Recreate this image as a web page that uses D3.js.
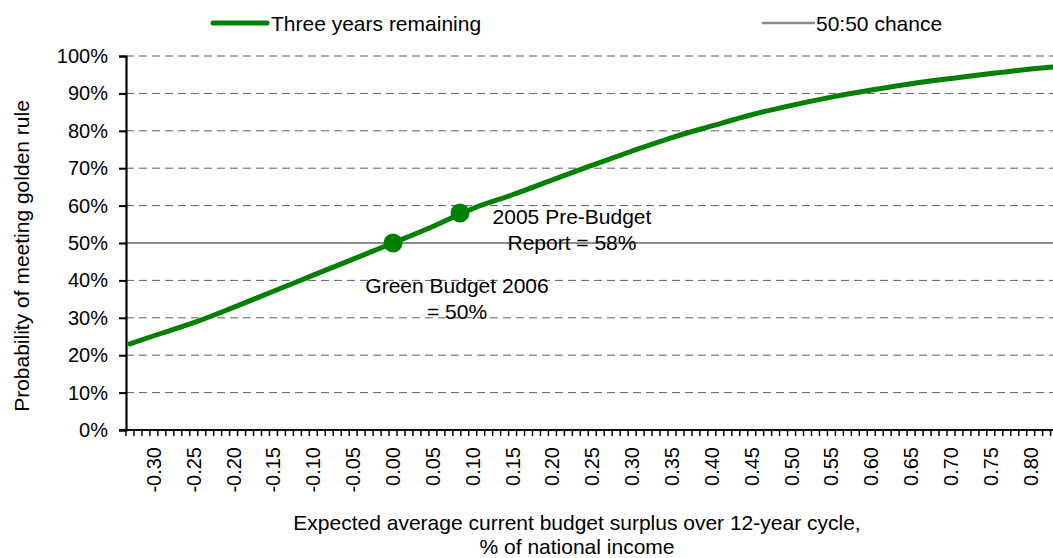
<!DOCTYPE html>
<html>
<head>
<meta charset="utf-8">
<script src="https://cdn.jsdelivr.net/npm/d3@7"></script>
<style>
  html, body { margin: 0; padding: 0; background: #fff; }
  svg { display: block; }
  text { font-family: "Liberation Sans", Arial, sans-serif; fill: #000; }
</style>
</head>
<body>
<svg id="chart" width="1053" height="558"></svg>
<script>
// Budget surplus (% of national income) and probability of meeting the golden rule
const surplus = [-0.33, -0.30, -0.25, -0.20, -0.15, -0.10, -0.05, 0.00, 0.05, 0.10, 0.15, 0.20,
                 0.25, 0.30, 0.35, 0.40, 0.45, 0.50, 0.55, 0.60, 0.65, 0.70, 0.75, 0.80, 0.83];
const threeYearsRemaining = [0.230, 0.252, 0.287, 0.328, 0.371, 0.414, 0.457, 0.500, 0.544, 0.592,
                             0.629, 0.669, 0.708, 0.746, 0.782, 0.813, 0.843, 0.868, 0.890, 0.909,
                             0.926, 0.940, 0.953, 0.965, 0.971];
const fiftyFifty = 0.5;

// Marked forecasts
const markers = [
  { name: "Green Budget 2006", x: 0.00, y: 0.50, lines: ["Green Budget 2006", "= 50%"] },
  { name: "2005 Pre-Budget Report", x: 0.084, y: 0.58, lines: ["2005 Pre-Budget", "Report = 58%"] }
];

const xTickLabels = ["-0.30", "-0.25", "-0.20", "-0.15", "-0.10", "-0.05", "0.00", "0.05", "0.10",
                     "0.15", "0.20", "0.25", "0.30", "0.35", "0.40", "0.45", "0.50", "0.55",
                     "0.60", "0.65", "0.70", "0.75", "0.80"];
const yTickValues = [0, 0.1, 0.2, 0.3, 0.4, 0.5, 0.6, 0.7, 0.8, 0.9, 1.0];

const legendLabels = ["Three years remaining", "50:50 chance"];
const xTitle = ["Expected average current budget surplus over 12-year cycle,", "% of national income"];
const yTitle = "Probability of meeting golden rule";

const GREEN = "#008000";
const GREY = "#8c8c8c";

const svg = d3.select("#chart");
const x = d3.scaleLinear().domain([-0.335, 0.828]).range([126, 1053]);
const y = d3.scaleLinear().domain([0, 1]).range([430, 56]);

// Horizontal gridlines (dashed), skipping the 50% level drawn as a series
svg.append("g")
  .selectAll("line")
  .data(yTickValues.filter(v => v > 0 && Math.abs(v - fiftyFifty) > 1e-9))
  .join("line")
  .attr("x1", x.range()[0]).attr("x2", x.range()[1])
  .attr("y1", d => y(d)).attr("y2", d => y(d))
  .attr("stroke", "#5e5e5e")
  .attr("stroke-width", 1)
  .attr("stroke-dasharray", "8,5");

// 50:50 chance line
svg.append("line")
  .attr("x1", x.range()[0]).attr("x2", x.range()[1])
  .attr("y1", y(fiftyFifty)).attr("y2", y(fiftyFifty))
  .attr("stroke", GREY)
  .attr("stroke-width", 2.2);

// Y axis
const yAxis = d3.axisLeft(y)
  .tickValues(yTickValues)
  .tickFormat(d3.format(".0%"))
  .tickSize(7)
  .tickPadding(11);
const gy = svg.append("g").attr("transform", `translate(${x.range()[0]},0)`).call(yAxis);
gy.select(".domain").attr("stroke", "#000").attr("stroke-width", 2.2);
gy.selectAll(".tick line").attr("stroke", "#000").attr("stroke-width", 2);
gy.selectAll(".tick text")
  .style("font-size", "20px")
  .style("font-family", "'Liberation Sans', Arial, sans-serif");

// X axis: minor ticks at every 0.01 category boundary, labels every 0.05
const step = 0.01;
const boundaries = d3.range(0, Math.floor((x.domain()[1] - x.domain()[0]) / step) + 1)
  .map(i => x.domain()[0] + i * step);
const gx = svg.append("g").attr("transform", `translate(0,${y(0)})`);
gx.append("line")
  .attr("x1", x.range()[0] - 7).attr("x2", x.range()[1])
  .attr("y1", 0).attr("y2", 0)
  .attr("stroke", "#000").attr("stroke-width", 2.2);
gx.selectAll("line.minor")
  .data(boundaries)
  .join("line")
  .attr("class", "minor")
  .attr("x1", d => x(d)).attr("x2", d => x(d))
  .attr("y1", 0).attr("y2", 6)
  .attr("stroke", "#000").attr("stroke-width", 1.5);
gx.selectAll("text.xlab")
  .data(xTickLabels)
  .join("text")
  .attr("class", "xlab")
  .attr("transform", d => `translate(${x(+d) + 7},17) rotate(-90)`)
  .attr("text-anchor", "end")
  .style("font-size", "20px")
  .text(d => d);

// Probability curve
const pts = surplus.map((s, i) => [s, threeYearsRemaining[i]]);
svg.append("path")
  .datum(pts)
  .attr("fill", "none")
  .attr("stroke", GREEN)
  .attr("stroke-width", 5)
  .attr("stroke-linecap", "round")
  .attr("stroke-linejoin", "round")
  .attr("d", d3.line().x(d => x(d[0])).y(d => y(d[1])).curve(d3.curveMonotoneX));

// Marker dots
svg.append("g")
  .selectAll("circle")
  .data(markers)
  .join("circle")
  .attr("cx", d => x(d.x)).attr("cy", d => y(d.y))
  .attr("r", 9.5)
  .attr("fill", GREEN);

// Marker annotations
const annoPos = [
  { dx: 64, dy: 50 },   // Green Budget 2006, below-right of its dot
  { dx: 112, dy: 11 }   // 2005 Pre-Budget Report, right of its dot
];
markers.forEach((m, i) => {
  const t = svg.append("text")
    .attr("text-anchor", "middle")
    .style("font-size", "21px")
    .attr("transform", `translate(${x(m.x) + annoPos[i].dx},${y(m.y) + annoPos[i].dy})`);
  m.lines.forEach((ln, j) => {
    t.append("tspan").attr("x", 0).attr("dy", j === 0 ? 0 : 25.5).text(ln);
  });
});

// Legend
const lg = svg.append("g");
lg.append("line").attr("x1", 213).attr("x2", 267).attr("y1", 23).attr("y2", 23)
  .attr("stroke", GREEN).attr("stroke-width", 5).attr("stroke-linecap", "round");
lg.append("text").attr("x", 271).attr("y", 31).style("font-size", "21px").text(legendLabels[0]);
lg.append("line").attr("x1", 762).attr("x2", 815).attr("y1", 23).attr("y2", 23)
  .attr("stroke", GREY).attr("stroke-width", 2.5);
lg.append("text").attr("x", 816).attr("y", 31).style("font-size", "21px").text(legendLabels[1]);

// Axis titles
const xt = svg.append("text").attr("text-anchor", "middle").style("font-size", "21px")
  .attr("transform", "translate(577,530)");
xTitle.forEach((ln, j) => xt.append("tspan").attr("x", 0).attr("dy", j === 0 ? 0 : 24).text(ln));

svg.append("text")
  .attr("text-anchor", "middle")
  .style("font-size", "21px")
  .attr("transform", "translate(29,256) rotate(-90)")
  .text(yTitle);
</script>
</body>
</html>
